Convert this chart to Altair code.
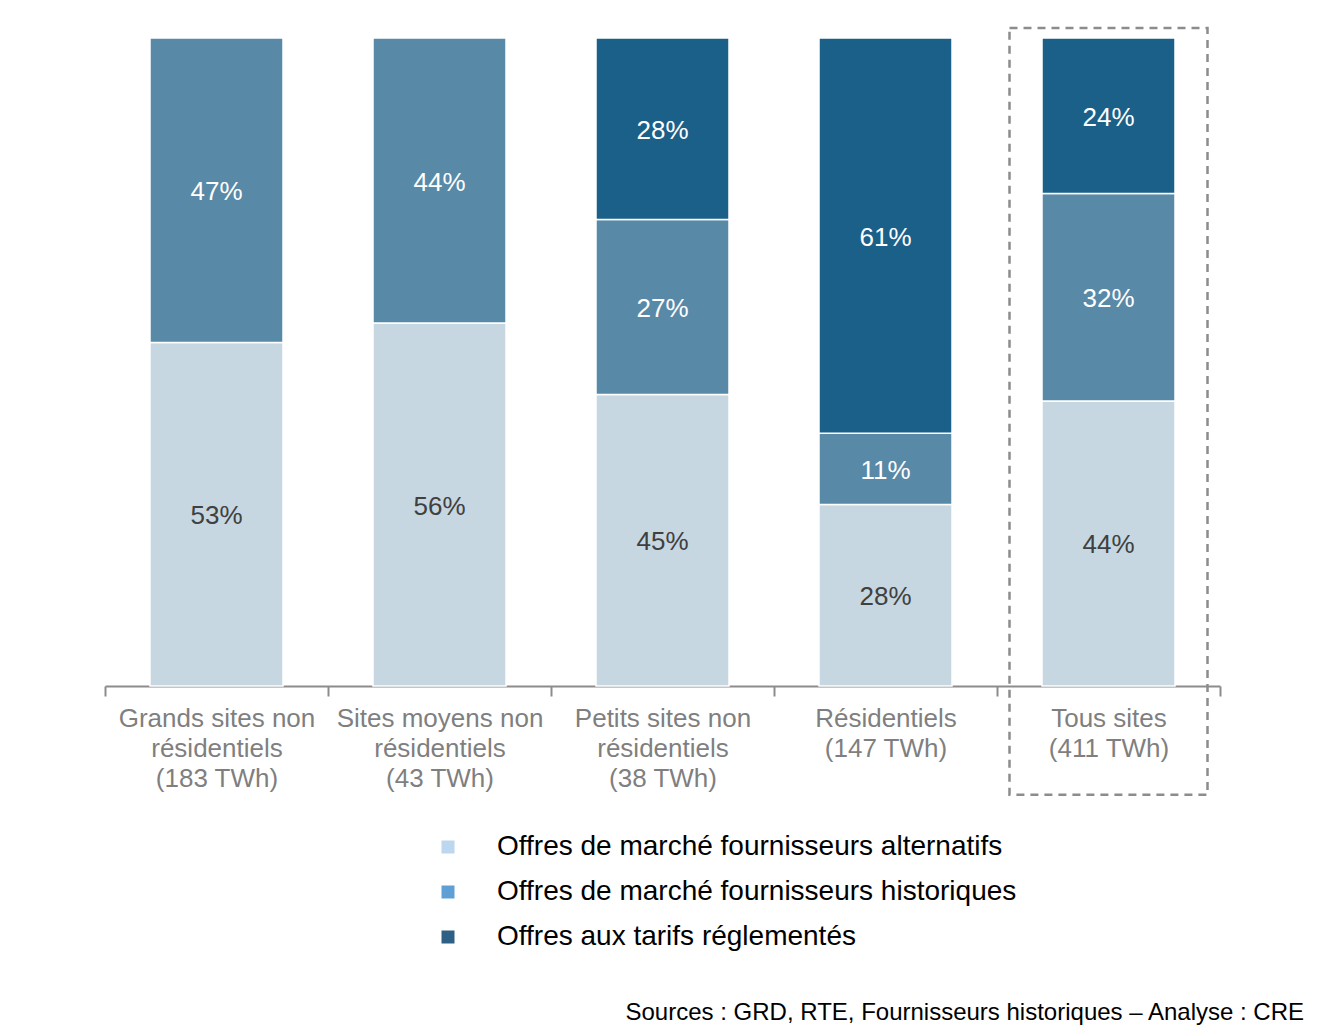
import altair as alt
import pandas as pd

FONT = "Liberation Sans"

categories = [
    "Grands sites non|résidentiels|(183 TWh)",
    "Sites moyens non|résidentiels|(43 TWh)",
    "Petits sites non|résidentiels|(38 TWh)",
    "Résidentiels|(147 TWh)",
    "Tous sites|(411 TWh)",
]
series = [
    "Offres de marché fournisseurs alternatifs",
    "Offres de marché fournisseurs historiques",
    "Offres aux tarifs réglementés",
]
alternatifs = [53, 56, 45, 28, 44]
historiques = [47, 44, 27, 11, 32]
reglementes = [0, 0, 28, 61, 24]

bar_colors = ["#c6d7e1", "#5889a7", "#1a6088"]
legend_colors = ["#bdd7ee", "#5ea0d6", "#2e5f85"]

# highlight box around "Tous sites" (in share units of the y scale)
box_category = [categories[4]]
box_top = [1.0155]
box_bottom = [-0.168]

source_text = "Sources : GRD, RTE, Fournisseurs historiques – Analyse : CRE"

rows = []
for i, cat in enumerate(categories):
    for k, vals in enumerate([alternatifs, historiques, reglementes]):
        rows.append({"cat": cat, "serie": series[k], "order": k, "value": vals[i] / 100})
df = pd.DataFrame(rows)

xscale = alt.Scale(domain=categories, paddingInner=0, paddingOuter=0)
xenc = alt.X(
    "cat:N",
    scale=xscale,
    sort=categories,
    axis=alt.Axis(
        title=None,
        labelExpr="split(datum.label, '|')",
        labelAngle=0,
        tickBand="extent",
        labelLimit=400,
        labelOverlap=False,
    ),
)
yscale = alt.Scale(domain=[0, 1])

base = (
    alt.Chart(df)
    .transform_filter("datum.value > 0")
    .transform_stack(
        stack="value",
        groupby=["cat"],
        sort=[alt.SortField("order", order="ascending")],
        as_=["v0", "v1"],
    )
    .transform_calculate(mid="(datum.v0 + datum.v1) / 2")
)

bars = base.mark_bar(size=133, stroke="white", strokeWidth=1.5).encode(
    x=xenc,
    y=alt.Y("v0:Q", scale=yscale, axis=None),
    y2="v1:Q",
    color=alt.Color("serie:N", scale=alt.Scale(domain=series, range=bar_colors), legend=None),
)

legend_layer = base.mark_square(opacity=0, size=10).encode(
    x=xenc,
    y=alt.Y("mid:Q", scale=yscale, axis=None),
    color=alt.Color(
        "serie:N",
        scale=alt.Scale(domain=series, range=legend_colors),
        sort=series,
        legend=alt.Legend(
            title=None,
            orient="none",
            legendX=329,
            legendY=795,
            direction="vertical",
            symbolType="square",
            symbolSize=169,
            symbolOpacity=1,
            symbolStrokeWidth=0,
            labelFont=FONT,
            labelFontSize=28,
            labelColor="black",
            labelOffset=35,
            labelLimit=900,
            rowPadding=17,
            padding=0,
        ),
    ),
)

labels = base.mark_text(font=FONT, fontSize=26, dy=2).encode(
    x=xenc,
    y=alt.Y("mid:Q", scale=yscale, axis=None),
    text=alt.Text("value:Q", format=".0%"),
    color=alt.condition("datum.order == 0", alt.value("#404040"), alt.value("white")),
)

box_df = pd.DataFrame({"cat": box_category, "top": box_top, "bottom": box_bottom})
box = alt.Chart(box_df).mark_bar(
    size=198, filled=False, stroke="#8c8c8c", strokeDash=[8, 6], strokeWidth=2.5
).encode(
    x=xenc,
    y=alt.Y("bottom:Q", scale=yscale, axis=None),
    y2="top:Q",
)

source = alt.Chart(pd.DataFrame({"t": [source_text]})).mark_text(
    align="right", baseline="middle", font=FONT, fontSize=24, color="black"
).encode(
    x=alt.value(1199),
    y=alt.value(975),
    text="t:N",
)

chart = (
    alt.layer(bars, legend_layer, labels, box, source)
    .resolve_scale(color="independent")
    .properties(
        width=1115,
        height=648,
        autosize=alt.AutoSizeParams(type="none"),
        padding={"left": 97, "top": 30, "right": 93, "bottom": 339},
    )
    .configure_view(stroke=None)
    .configure_axis(
        domainColor="#8c8c8c",
        domainWidth=2,
        tickColor="#8c8c8c",
        tickWidth=2,
        tickSize=10,
        labelFont=FONT,
        labelFontSize=26,
        labelColor="#7f7f7f",
        labelLineHeight=30,
        labelPadding=9,
        grid=False,
    )
)

chart.save("out.html", embed_options={"renderer": "svg", "actions": False})
